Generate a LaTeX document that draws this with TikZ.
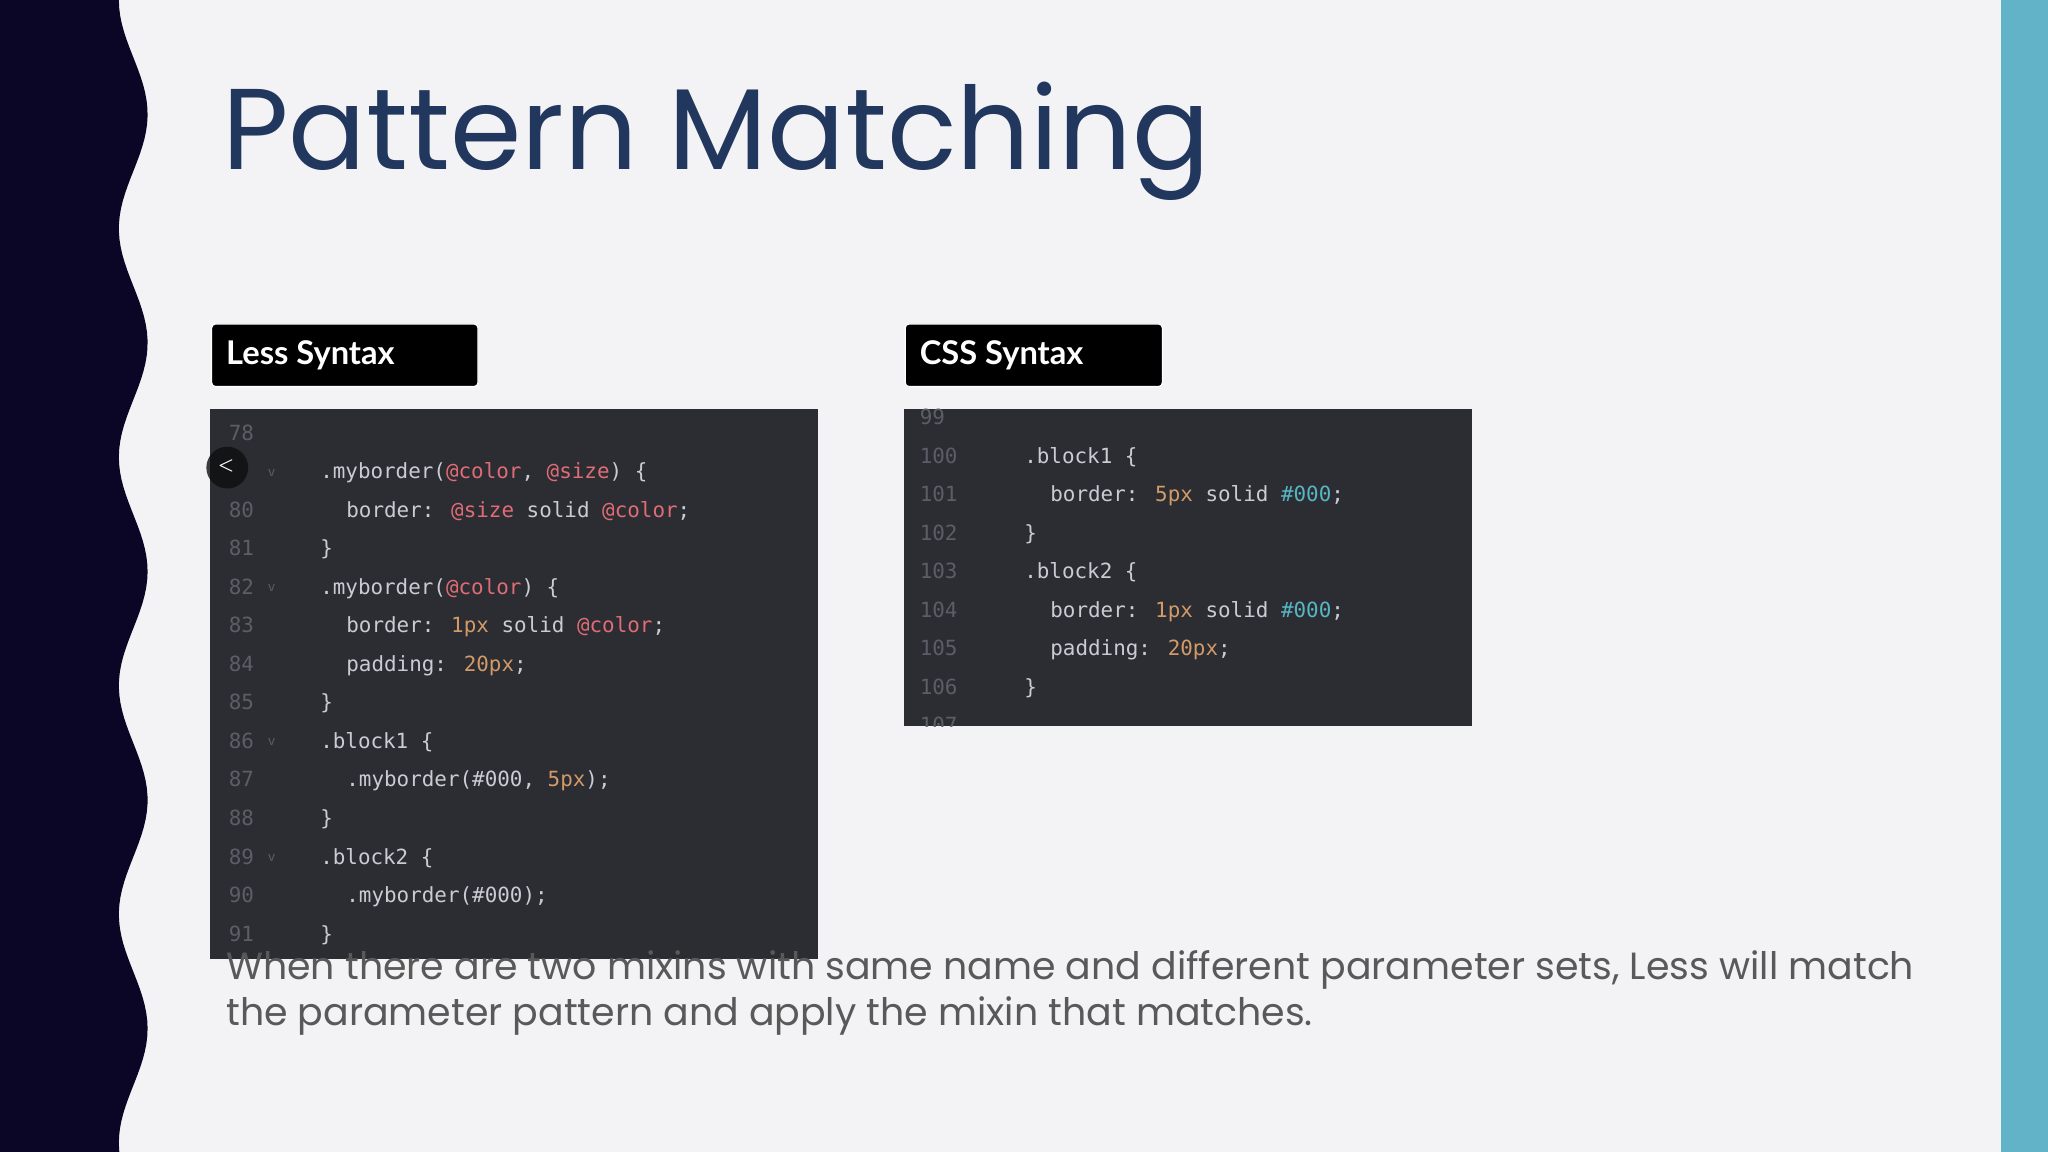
\documentclass[tikz,border=0pt]{standalone}
\usepackage{fontspec}
\setmainfont{Poppins}
\newfontfamily\codef{DejaVu Sans Mono}
\newfontfamily\labf{Lato}
\definecolor{bg}{HTML}{F3F3F5}
\definecolor{navy}{HTML}{0B0626}
\definecolor{teal}{HTML}{62B3C8}
\definecolor{titlec}{HTML}{22375E}
\definecolor{panel}{HTML}{2B2D33}
\definecolor{lnum}{HTML}{5A5E66}
\definecolor{ctext}{HTML}{C8CCD4}
\definecolor{cvar}{HTML}{E06C75}
\definecolor{cnum}{HTML}{D19A66}
\definecolor{chex}{HTML}{56B6C2}
\definecolor{bodyc}{HTML}{595959}
\tikzset{
 codet/.style={anchor=base west, inner sep=0pt, text=ctext, font=\codef\fontsize{16}{18}\selectfont},
 numt/.style={anchor=base west, inner sep=0pt, text=lnum, font=\codef\fontsize{16}{18}\selectfont},
 labbox/.style={fill=black, rounded corners=3pt, draw=white, line width=1pt},
 labt/.style={anchor=west, text=white, font=\labf\bfseries\fontsize{25}{28}\selectfont, inner sep=0pt}
}
\newcommand{\cV}[1]{\textcolor{cvar}{#1}}
\newcommand{\cN}[1]{\textcolor{cnum}{#1}}
\newcommand{\cH}[1]{\textcolor{chex}{#1}}
\begin{document}
\begin{tikzpicture}[x=1pt,y=-1pt]
\useasboundingbox (0,0) rectangle (1568,882);
\fill[bg] (0,0) rectangle (1568,882);
\fill[teal] (1532,0) rectangle (1568,882);
\fill[navy] (0,0) -- plot[domain=0:882,samples=150] ({102-11*cos(2.0571*\x)},\x) -- (0,882) -- cycle;
\node[anchor=base west, inner sep=0pt, text=titlec, font=\fontsize{88}{90}\selectfont] (title) at (170,130) {Pattern Matching};
% labels
\draw[labbox] (162,248) rectangle (366,296);
\node[labt] (l1) at (173,272) {Less Syntax};
\draw[labbox] (693,248) rectangle (890,296);
\node[labt] (l2) at (704,272) {CSS Syntax};
% panels
\fill[panel] (161,313) rectangle (626,734);
\fill[panel] (692,313) rectangle (1127,556);
% less code
\foreach \n [count=\i from 0] in {78,79,80,81,82,83,84,85,86,87,88,89,90,91}{
  \ifnum\n=79\else\node[numt] at (175,{337+29.5*\i}) {\n};\fi
}
\foreach \i in {1,4,8,11}{ \node[numt, font=\sffamily\fontsize{12}{12}\selectfont] at (205,{335+29.5*\i}) {v}; }
\fill[black!70!panel, opacity=0.8] (174,358) circle (16);
\node[text=white, font=\sffamily\bfseries\fontsize{14}{14}\selectfont] (arrow) at (173,357) {<};
\node[codet] (c79) at (245,366.5) {.myborder(\cV{@color}, \cV{@size}) \{};
\node[codet] (c80) at (265,396) {border: \cV{@size} solid \cV{@color};};
\node[codet] (c81) at (245,425.5) {\}};
\node[codet] (c82) at (245,455) {.myborder(\cV{@color}) \{};
\node[codet] (c83) at (265,484.5) {border: \cN{1px} solid \cV{@color};};
\node[codet] (c84) at (265,514) {padding: \cN{20px};};
\node[codet] (c85) at (245,543.5) {\}};
\node[codet] (c86) at (245,573) {.block1 \{};
\node[codet] (c87) at (265,602.5) {.myborder(\#000, \cN{5px});};
\node[codet] (c88) at (245,632) {\}};
\node[codet] (c89) at (245,661.5) {.block2 \{};
\node[codet] (c90) at (265,691) {.myborder(\#000);};
\node[codet] (c91) at (245,720.5) {\}};
% css code
\begin{scope}
\clip (692,313) rectangle (1127,556);
\foreach \n [count=\i from 0] in {99,100,101,102,103,104,105,106,107}{
  \node[numt] at (704,{325+29.5*\i}) {\n};
}
\end{scope}
\node[codet] (d100) at (784,354.5) {.block1 \{};
\node[codet] (d101) at (804,384) {border: \cN{5px} solid \cH{\#000};};
\node[codet] (d102) at (784,413.5) {\}};
\node[codet] (d103) at (784,443) {.block2 \{};
\node[codet] (d104) at (804,472.5) {border: \cN{1px} solid \cH{\#000};};
\node[codet] (d105) at (804,502) {padding: \cN{20px};};
\node[codet] (d106) at (784,531.5) {\}};
% body
\node[anchor=base west, inner sep=0pt, text=bodyc, font=\fontsize{29}{35}\selectfont, align=left] (body) at (173,785) {When there are two mixins with same name and different parameter sets, Less will match\\the parameter pattern and apply the mixin that matches.};
\end{tikzpicture}
\end{document}
